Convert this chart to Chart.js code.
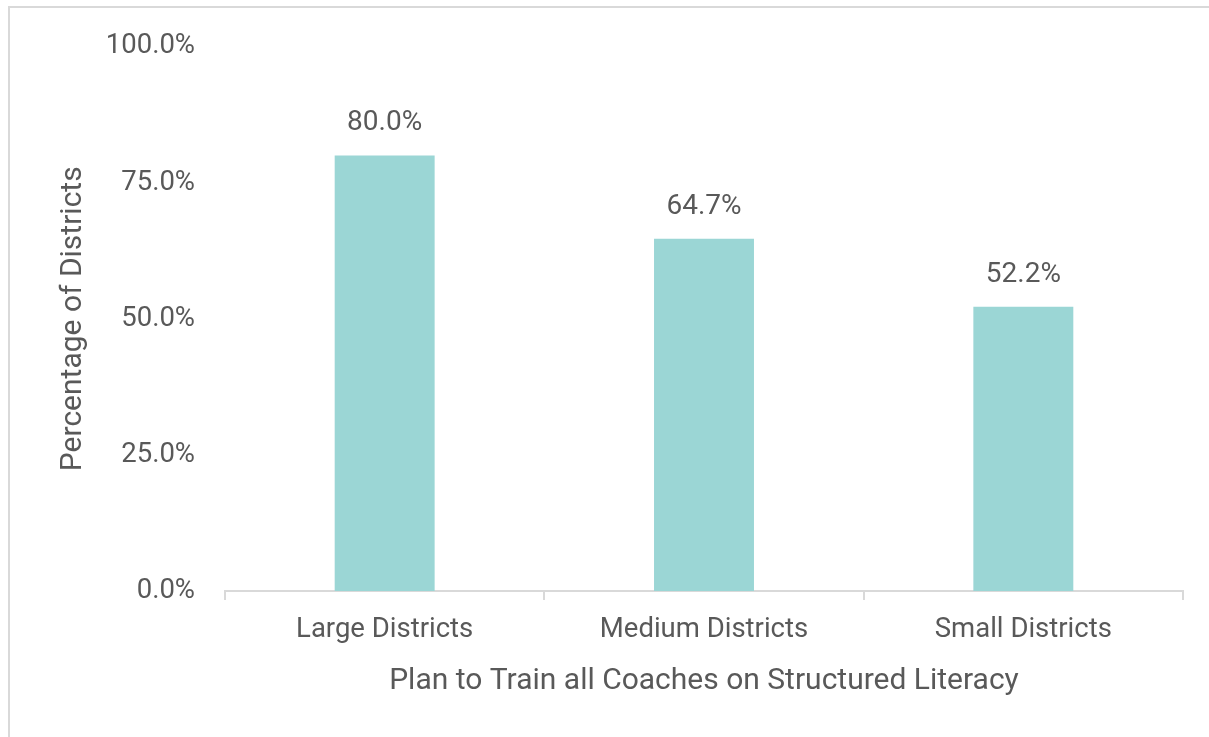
<!DOCTYPE html>
<html>
  <head>
    <title>Coaches Structured Literacy</title>
    <script src="https://cdn.jsdelivr.net/npm/chart.js"></script>
    <style>
      body {
        margin: 0;
        background: #ffffff;
      }
      #wrap {
        position: relative;
        width: 1209px;
        height: 737px;
      }
      #frame {
        position: absolute;
        left: 8px;
        top: 6px;
        right: 0;
        bottom: 0;
        border-top: 2px solid #d9d9d9;
        border-left: 2px solid #d9d9d9;
      }
    </style>
  </head>
  <body>
    <div id="wrap">
      <div id="frame"></div>
      <canvas id="coachChart"></canvas>
    </div>
    <script>
      const districtSizes = ["Large Districts", "Medium Districts", "Small Districts"];
      const planPercent = [80.0, 64.7, 52.2];
      const yTicks = [0, 25, 50, 75, 100];

      const textColor = "#595959";
      const fontFamily = "Roboto, 'Liberation Sans', sans-serif";

      // value labels above each bar
      const barLabels = {
        id: "barLabels",
        afterDatasetsDraw(chart) {
          const ctx = chart.ctx;
          const meta = chart.getDatasetMeta(0);
          ctx.save();
          ctx.font = "28px " + fontFamily;
          ctx.fillStyle = textColor;
          ctx.textAlign = "center";
          ctx.textBaseline = "middle";
          meta.data.forEach((bar, i) => {
            ctx.fillText(planPercent[i].toFixed(1) + "%", bar.x, bar.y - 32);
          });
          ctx.restore();
        },
      };

      const ctx = document.getElementById("coachChart").getContext("2d");

      new Chart(ctx, {
        type: "bar",
        data: {
          labels: districtSizes,
          datasets: [
            {
              data: planPercent,
              backgroundColor: "#9bd6d5",
              categoryPercentage: 0.313,
              barPercentage: 1,
            },
          ],
        },
        plugins: [barLabels],
        options: {
          responsive: true,
          maintainAspectRatio: false,
          animation: false,
          layout: {
            padding: { top: 45, bottom: 38, left: 55, right: 26 },
          },
          scales: {
            x: {
              offset: true,
              grid: {
                display: true,
                offset: true,
                drawOnChartArea: false,
                drawTicks: true,
                tickLength: 9,
                color: "#d9d9d9",
                lineWidth: 2,
              },
              border: { display: true, color: "#d9d9d9", width: 2 },
              ticks: {
                color: textColor,
                padding: 14,
                font: { family: fontFamily, size: 27.5 },
              },
              title: {
                display: true,
                text: "Plan to Train all Coaches on Structured Literacy",
                color: textColor,
                font: { family: fontFamily, size: 30 },
                padding: { top: 2, bottom: 0 },
              },
            },
            y: {
              min: 0,
              max: 100,
              afterFit: (scale) => {
                scale.width = 225 - 55;
              },
              afterBuildTicks: (scale) => {
                scale.ticks = yTicks.map((v) => ({ value: v }));
              },
              grid: { display: false, drawTicks: false },
              border: { display: false },
              ticks: {
                color: textColor,
                padding: 30,
                font: { family: fontFamily, size: 27.5 },
                callback: (v) => v.toFixed(1) + "%",
              },
              title: {
                display: true,
                text: "Percentage of Districts",
                color: textColor,
                font: { family: fontFamily, size: 30 },
                padding: 0,
              },
            },
          },
          plugins: {
            legend: { display: false },
            tooltip: { enabled: false },
          },
        },
      });
    </script>
  </body>
</html>
